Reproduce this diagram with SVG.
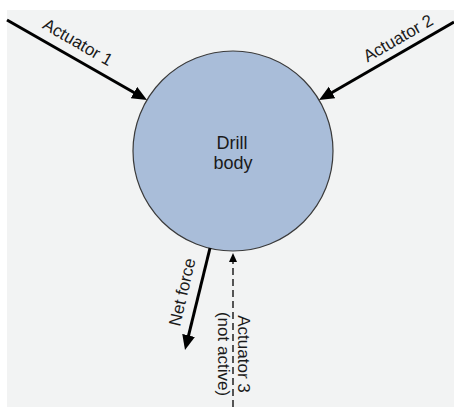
<svg xmlns="http://www.w3.org/2000/svg" width="454" height="407" viewBox="0 0 454 407">
<style>
.lbl{font-family:"Liberation Sans",Arial,sans-serif;font-size:17px;fill:#1a1a1a;text-anchor:middle}
.solid{stroke:#000;stroke-width:3;fill:none}
.dash{stroke:#000;stroke-width:1.3;fill:none;stroke-dasharray:7 4}
</style>
<defs>
<marker id="ah" markerUnits="userSpaceOnUse" markerWidth="17" markerHeight="14" refX="2" refY="6.5" orient="auto">
<path d="M0,0 L15,6.5 L0,13 z" fill="#000"/>
</marker>
<marker id="ahs" markerUnits="userSpaceOnUse" markerWidth="12" markerHeight="10" refX="1" refY="4" orient="auto">
<path d="M0,0 L9,4 L0,8 z" fill="#000"/>
</marker>
</defs>
<rect x="0" y="0" width="454" height="407" fill="#ffffff"/>
<rect x="7" y="10" width="447" height="397" fill="#f2f3f3"/>
<g id="drill-body">
<circle cx="233" cy="151" r="100" fill="#a9bdd9" stroke="#3a3a3a" stroke-width="1.2"/>
<text class="lbl" x="232" y="149" style="font-size:18px">Drill</text>
<text class="lbl" x="233" y="169" style="font-size:18px">body</text>
</g>
<g id="connectors">
<line class="solid" x1="7" y1="20" x2="135.7" y2="93.5" marker-end="url(#ah)"/>
<line class="solid" x1="454" y1="22" x2="330.3" y2="93.5" marker-end="url(#ah)"/>
<line class="solid" x1="210" y1="248" x2="188.1" y2="337.4" marker-end="url(#ah)"/>
<line class="dash" x1="233" y1="407" x2="233" y2="261" marker-end="url(#ahs)"/>
</g>
<g id="label-actuator1">
<text class="lbl" transform="translate(78,42) rotate(30)" y="6">Actuator 1</text>
</g>
<g id="label-actuator2">
<text class="lbl" transform="translate(398,38) rotate(-30)" y="6">Actuator 2</text>
</g>
<g id="label-netforce">
<text class="lbl" transform="translate(182,292) rotate(-77)" y="6">Net force</text>
</g>
<g id="label-actuator3">
<text class="lbl" transform="translate(233,354) rotate(90)" y="-5">Actuator 3</text>
<text class="lbl" transform="translate(233,354) rotate(90)" y="15">(not active)</text>
</g>
</svg>
